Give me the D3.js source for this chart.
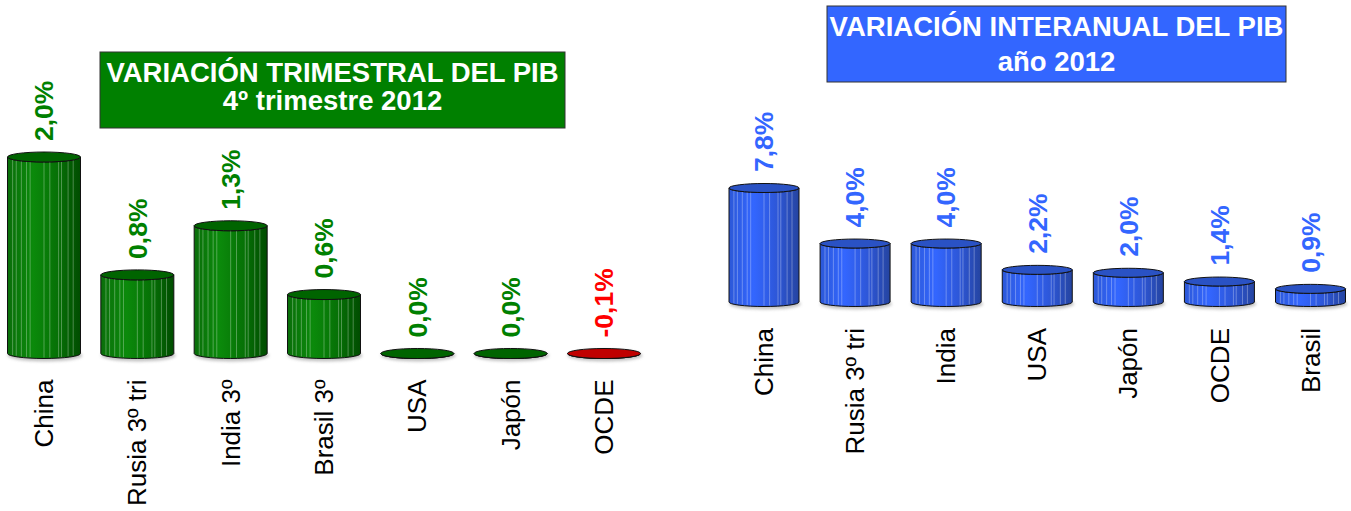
<!DOCTYPE html>
<html>
<head>
<meta charset="utf-8">
<script src="https://cdn.jsdelivr.net/npm/d3@7"></script>
<style>
  body { margin: 0; background: #fff; }
  svg text { font-family: 'Liberation Sans', Arial, sans-serif; }
</style>
</head>
<body>
<svg id="chart" width="1351" height="511"></svg>
<script>
// Quarterly GDP change, Q4 2012
const trimCategories = ['China', 'Rusia 3º tri', 'India 3º', 'Brasil 3º', 'USA', 'Japón', 'OCDE'];
const trimValues = [2.0, 0.8, 1.3, 0.6, 0.0, 0.0, -0.1];
const trimTitle = ['VARIACIÓN TRIMESTRAL DEL PIB', '4º trimestre 2012'];

// Year-on-year GDP change, 2012
const anualCategories = ['China', 'Rusia 3º tri', 'India', 'USA', 'Japón', 'OCDE', 'Brasil'];
const anualValues = [7.8, 4.0, 4.0, 2.2, 2.0, 1.4, 0.9];
const anualTitle = ['VARIACIÓN INTERANUAL DEL PIB', 'año 2012'];

class CylinderChart {

  constructor(_config, _categories, _values, _title) {
    this.config = {
      parentElement: _config.parentElement,
      id: _config.id,
      xRange: _config.xRange,
      yRange: _config.yRange,
      yMax: _config.yMax,
      barWidth: _config.barWidth || 70,
      ry: _config.ry || 5,
      colors: _config.colors,
      titleBox: _config.titleBox,
      titleLines: _config.titleLines,
    };
    this.categories = _categories;
    this.values = _values;
    this.title = _title;
    this.initVis();
  }

  initVis() {
    let vis = this;
    vis.svg = d3.select(vis.config.parentElement);
    vis.defs = vis.svg.append('defs');

    // horizontal shading for the cylinder body
    const grad = vis.defs.append('linearGradient')
        .attr('id', `body-${vis.config.id}`)
        .attr('x1', 0).attr('x2', 1).attr('y1', 0).attr('y2', 0);
    vis.config.colors.body.forEach(([o, c]) => grad.append('stop').attr('offset', o).attr('stop-color', c));

    // soft shadow under each cylinder
    vis.defs.append('filter')
        .attr('id', `blur-${vis.config.id}`)
        .attr('x', '-20%').attr('y', '-100%').attr('width', '140%').attr('height', '300%')
      .append('feGaussianBlur')
        .attr('stdDeviation', 1.5);

    vis.xScale = d3.scalePoint()
        .domain(vis.categories)
        .range(vis.config.xRange);

    vis.yScale = d3.scaleLinear()
        .domain([0, vis.config.yMax])
        .range(vis.config.yRange);

    vis.chart = vis.svg.append('g');

    // title box
    const tb = vis.config.titleBox;
    vis.svg.append('rect')
        .attr('x', tb.x).attr('y', tb.y)
        .attr('width', tb.w).attr('height', tb.h)
        .attr('fill', tb.fill)
        .attr('stroke', '#333')
        .attr('stroke-width', 1);
    vis.svg.selectAll(`.title-${vis.config.id}`)
      .data(vis.title)
      .join('text')
        .attr('class', `title-${vis.config.id}`)
        .attr('x', tb.x + tb.w / 2)
        .attr('y', (d, i) => vis.config.titleLines[i])
        .attr('text-anchor', 'middle')
        .attr('fill', '#fff')
        .attr('font-weight', 'bold')
        .attr('font-size', 27.5)
        .text(d => d);

    vis.renderVis();
  }

  renderVis() {
    let vis = this;
    const w = vis.config.barWidth, rx = w / 2, ry = vis.config.ry;
    const y0 = vis.yScale(0);
    const col = vis.config.colors;
    const data = vis.categories.map((c, i) => ({ key: c, value: vis.values[i] }));
    const stripes = [0.07, 0.12, 0.19, 0.26, 0.31, 0.5, 0.58, 0.7, 0.74, 0.83, 0.9];

    const bars = vis.chart.selectAll('.bar')
      .data(data)
      .join('g')
        .attr('class', 'bar')
        .attr('transform', d => `translate(${vis.xScale(d.key)},0)`);

    bars.append('ellipse')
        .attr('cx', 1).attr('cy', y0 + 2)
        .attr('rx', rx + 1).attr('ry', ry + 1)
        .attr('fill', '#999')
        .attr('opacity', 0.6)
        .attr('filter', `url(#blur-${vis.config.id})`);

    // body: side walls + front half of the bottom ellipse
    bars.append('path')
        .attr('d', d => {
          const yt = vis.yScale(Math.max(0, d.value));
          return `M${-rx},${yt} L${-rx},${y0} A${rx},${ry} 0 0 0 ${rx},${y0} L${rx},${yt} A${rx},${ry} 0 0 1 ${-rx},${yt} Z`;
        })
        .attr('fill', d => d.value < 0 ? col.neg : `url(#body-${vis.config.id})`)
        .attr('stroke', '#111')
        .attr('stroke-width', 1);

    // light vertical streaks
    bars.filter(d => d.value > 0).selectAll('line')
      .data(d => stripes.map(s => ({ s, yt: vis.yScale(d.value) })))
      .join('line')
        .attr('x1', s => -rx + s.s * w).attr('x2', s => -rx + s.s * w)
        .attr('y1', s => s.yt)
        .attr('y2', s => y0 + ry * Math.sqrt(1 - Math.pow(2 * s.s - 1, 2)) - 1)
        .attr('stroke', '#fff')
        .attr('stroke-opacity', 0.3)
        .attr('stroke-width', 1);

    // top cap
    bars.append('ellipse')
        .attr('cx', 0)
        .attr('cy', d => vis.yScale(Math.max(0, d.value)))
        .attr('rx', rx).attr('ry', ry)
        .attr('fill', d => d.value < 0 ? col.neg : col.top)
        .attr('stroke', '#111')
        .attr('stroke-width', 1);

    // value labels
    bars.append('text')
        .attr('transform', d => `translate(0,${vis.yScale(Math.max(0, d.value)) - 16}) rotate(-90)`)
        .attr('dy', '0.35em')
        .attr('text-anchor', 'start')
        .attr('font-weight', 'bold')
        .attr('font-size', 26.5)
        .attr('fill', d => d.value < 0 ? '#ff0000' : col.label)
        .text(d => d3.format('.1f')(d.value).replace('.', ',').replace('−', '-') + '%');

    // category labels
    bars.append('text')
        .attr('transform', `translate(0,${y0 + 26}) rotate(-90)`)
        .attr('dy', '0.35em')
        .attr('text-anchor', 'end')
        .attr('font-size', 26)
        .attr('fill', '#000')
        .text(d => d.key);
  }
}

new CylinderChart({
  parentElement: '#chart',
  id: 'trim',
  xRange: [44, 604],
  yRange: [353.5, 157],
  yMax: 2.0,
  barWidth: 73,
  ry: 5,
  colors: {
    body: [[0, '#0a6e0a'], [0.35, '#0b8a0b'], [0.7, '#067006'], [1, '#004c00']],
    top: '#006400',
    neg: '#c00000',
    label: '#008000'
  },
  titleBox: { x: 100, y: 52, w: 465, h: 76, fill: '#008000' },
  titleLines: [82, 110]
}, trimCategories, trimValues, trimTitle);

new CylinderChart({
  parentElement: '#chart',
  id: 'anual',
  xRange: [764, 1310.5],
  yRange: [302, 188],
  yMax: 7.8,
  barWidth: 70,
  ry: 4.5,
  colors: {
    body: [[0, '#2c58d8'], [0.35, '#3366ff'], [0.7, '#2d56d6'], [1, '#2544a0']],
    top: '#2a52c4',
    neg: '#c00000',
    label: '#3366ff'
  },
  titleBox: { x: 827, y: 6, w: 459, h: 76, fill: '#3366ff' },
  titleLines: [36, 71]
}, anualCategories, anualValues, anualTitle);
</script>
</body>
</html>
